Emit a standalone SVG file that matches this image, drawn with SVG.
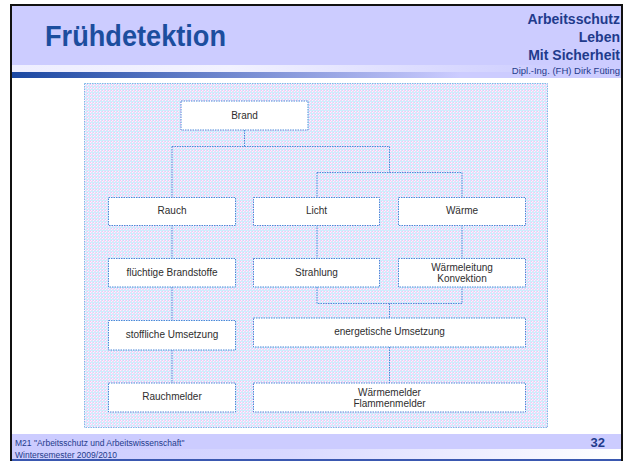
<svg xmlns="http://www.w3.org/2000/svg" width="627" height="461" viewBox="0 0 627 461">
<defs>
<pattern id="grid" x="0" y="0" width="3" height="3" patternUnits="userSpaceOnUse">
<rect width="3" height="3" fill="#faf4ff"/>
<rect x="0" y="0" width="1" height="1" fill="#f8c0f0"/>
<rect x="1" y="1" width="1" height="1" fill="#fad0f4"/>
<rect x="2" y="0" width="1" height="3" fill="#d0ecfc"/>
<rect x="0" y="2" width="3" height="1" fill="#d0ecfc"/>
</pattern>
<linearGradient id="hbar" x1="12" y1="0" x2="460" y2="0" gradientUnits="userSpaceOnUse">
<stop offset="0" stop-color="#1a47a2"/>
<stop offset="1" stop-color="#ccccff"/>
</linearGradient>
<linearGradient id="hlight" x1="12" y1="0" x2="560" y2="0" gradientUnits="userSpaceOnUse">
<stop offset="0" stop-color="#eeeeff"/>
<stop offset="0.4" stop-color="#f2f2ff"/>
<stop offset="1" stop-color="#ccccff"/>
</linearGradient>
<linearGradient id="fbar" x1="12" y1="0" x2="621" y2="0" gradientUnits="userSpaceOnUse">
<stop offset="0" stop-color="#ccccff"/>
<stop offset="0.45" stop-color="#d8d8ff"/>
<stop offset="1" stop-color="#ffffff"/>
</linearGradient>
</defs>
<style>
.box{fill:#ffffff;stroke:#4d88d8;stroke-width:1;stroke-dasharray:1.5 1}
.con{fill:none;stroke:#4d88d8;stroke-width:1;stroke-dasharray:1.5 1}
.lbl{font-family:"Liberation Sans",Arial,sans-serif;font-size:10px;fill:#2e2e2e;text-anchor:middle}
.hd{font-family:"Liberation Sans",Arial,sans-serif;font-weight:bold;fill:#1f3b8c;text-anchor:end}
.ft{font-family:"Liberation Sans",Arial,sans-serif;font-size:8.5px;fill:#1f3b8c}
</style>
<rect width="627" height="461" fill="#ffffff"/>
<g id="header">
<rect x="12" y="6" width="609" height="59" fill="#ccccff"/>
<rect x="12" y="65" width="609" height="7" fill="url(#hlight)"/>
<rect x="12" y="72" width="609" height="6" fill="url(#hbar)"/>
<text x="45" y="46" font-family="Liberation Sans,Arial,sans-serif" font-weight="bold" font-size="29" fill="#1c4e9e" textLength="181" lengthAdjust="spacingAndGlyphs">Frühdetektion</text>
<text class="hd" x="620" y="24" font-size="14">Arbeitsschutz</text>
<text class="hd" x="620" y="42" font-size="14">Leben</text>
<text class="hd" x="620" y="60" font-size="14">Mit Sicherheit</text>
<text x="620" y="74" font-family="Liberation Sans,Arial,sans-serif" font-size="9.5" fill="#1f3b8c" text-anchor="end">Dipl.-Ing. (FH) Dirk Füting</text>
</g>
<g id="footer">
<rect x="12" y="434" width="609" height="15" fill="#ccccff"/>
<rect x="12" y="449" width="609" height="10" fill="url(#fbar)"/>
<rect x="12" y="459" width="609" height="2" fill="#3a58b0"/>
<text class="ft" x="15" y="446">M21 "Arbeitsschutz und Arbeitswissenschaft"</text>
<text class="ft" x="15" y="458">Wintersemester 2009/2010</text>
<text x="605" y="447" font-family="Liberation Sans,Arial,sans-serif" font-weight="bold" font-size="13" fill="#1f3b8c" text-anchor="end">32</text>
</g>
<g id="frame">
<rect x="11" y="5" width="611" height="460" fill="none" stroke="#111111" stroke-width="2"/>
</g>
<g id="canvas">
<rect x="84.5" y="83.5" width="463" height="344" fill="url(#grid)" stroke="#80b8e8" stroke-width="1" stroke-dasharray="1.5 1"/>
</g>
<g id="connectors">
<path class="con" d="M244.5 130 V146.5 M172 146.5 H389.5 M172 146.5 V197 M389.5 146.5 V172.5 M317 172.5 H462 M317 172.5 V197 M462 172.5 V197"/>
<path class="con" d="M172 225 V258 M317 225 V258 M462 225 V258"/>
<path class="con" d="M317 287 V303.5 H462 V287 M389.5 303.5 V318"/>
<path class="con" d="M172 287 V320 M172 350 V383 M389.5 347 V383"/>
</g>
<g id="n-brand"><rect class="box" x="181" y="101" width="127" height="29"/><text class="lbl" x="244.5" y="118.5">Brand</text></g>
<g id="n-rauch"><rect class="box" x="108.5" y="197.5" width="127" height="28"/><text class="lbl" x="172" y="214">Rauch</text></g>
<g id="n-licht"><rect class="box" x="253.5" y="197.5" width="126" height="28"/><text class="lbl" x="316.5" y="214">Licht</text></g>
<g id="n-waerme"><rect class="box" x="398.5" y="197.5" width="127" height="28"/><text class="lbl" x="462" y="214">Wärme</text></g>
<g id="n-fluechtig"><rect class="box" x="108.5" y="258.5" width="127" height="28.5"/><text class="lbl" x="172" y="276">flüchtige Brandstoffe</text></g>
<g id="n-strahlung"><rect class="box" x="253.5" y="258.5" width="126" height="28.5"/><text class="lbl" x="316.5" y="276">Strahlung</text></g>
<g id="n-waermeleitung"><rect class="box" x="398.5" y="258.5" width="127" height="28.5"/><text class="lbl" x="462" y="271">Wärmeleitung</text><text class="lbl" x="462" y="282">Konvektion</text></g>
<g id="n-stofflich"><rect class="box" x="108.5" y="320.5" width="127" height="29.5"/><text class="lbl" x="172" y="338">stoffliche Umsetzung</text></g>
<g id="n-energetisch"><rect class="box" x="253.5" y="318" width="272" height="29"/><text class="lbl" x="389.5" y="334.5">energetische Umsetzung</text></g>
<g id="n-rauchmelder"><rect class="box" x="108.5" y="383" width="127" height="29"/><text class="lbl" x="172" y="399.5">Rauchmelder</text></g>
<g id="n-waermemelder"><rect class="box" x="253.5" y="383" width="272" height="29"/><text class="lbl" x="389.5" y="396">Wärmemelder</text><text class="lbl" x="389.5" y="407">Flammenmelder</text></g>
</svg>
